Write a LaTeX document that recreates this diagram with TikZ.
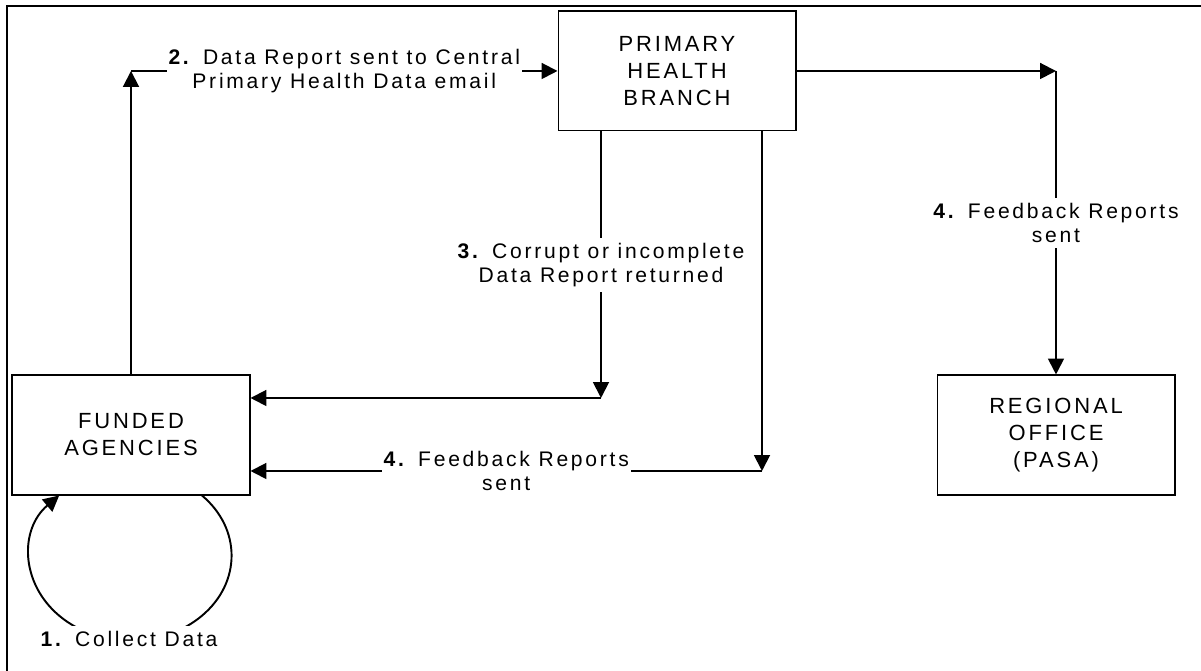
\documentclass[tikz,border=0pt]{standalone}
\usepackage{fontspec}
\setmainfont{Liberation Sans}[LetterSpace=13]
\usetikzlibrary{arrows.meta,calc}
\tikzstyle{block}=[draw, line width=0.6pt, minimum width=4.76cm, minimum height=2.4cm, inner sep=0pt, align=center, font=\fontsize{12.5}{15.3}\selectfont]
\tikzstyle{flow}=[line width=1.1pt, -{Triangle[length=9pt,width=9pt]}]
\tikzstyle{lbl}=[fill=white, inner xsep=1pt, inner ysep=3pt, align=center, font=\fontsize{12}{13.6}\selectfont]

\begin{document}
\begin{tikzpicture}[x=0.02cm, y=0.02cm]
	\useasboundingbox (0,0) rectangle (1201,671);
	\draw[line width=1.2pt] (7,0) -- (7,665) -- (1201,665);
	\node[block] (phb) at (677,600) {PRIMARY\\HEALTH\\BRANCH};
	\node[block] (fa) at (131,236) {FUNDED\\AGENCIES};
	\node[block] (ro) at (1056,236) {REGIONAL\\OFFICE\\(PASA)};
	\coordinate (up) at (fa.north |- phb.west);
	\coordinate (out) at (ro.north |- phb.east);
	\coordinate (back) at (601,273);
	\coordinate (fb) at (762,200);
	\draw[flow] (fa.north) -- (up);
	\draw[flow] (up) -- node[lbl] {\textbf{2.} Data Report sent to Central\\Primary Health Data email} (phb.west);
	\draw[flow] (phb.east) -- (out);
	\draw[flow] (out) -- node[lbl] {\textbf{4.} Feedback Reports\\sent} (ro.north);
	\draw[flow] (phb.south -| back) -- node[lbl] {\textbf{3.} Corrupt or incomplete\\Data Report returned} (back);
	\draw[flow] (back) -- (fa.east |- back);
	\draw[flow] (phb.south -| fb) -- (fb);
	\draw[flow] (fb) -- node[lbl] {\textbf{4.} Feedback Reports\\sent} (fa.east |- fb);
	\draw[flow] ($(fa.south)+(71,0)$) arc[start angle=45, end angle=-225, x radius=2.02cm, y radius=1.7cm];
	\node[lbl] (collect) at (129,32) {\textbf{1.} Collect Data};
\end{tikzpicture}
\end{document}
